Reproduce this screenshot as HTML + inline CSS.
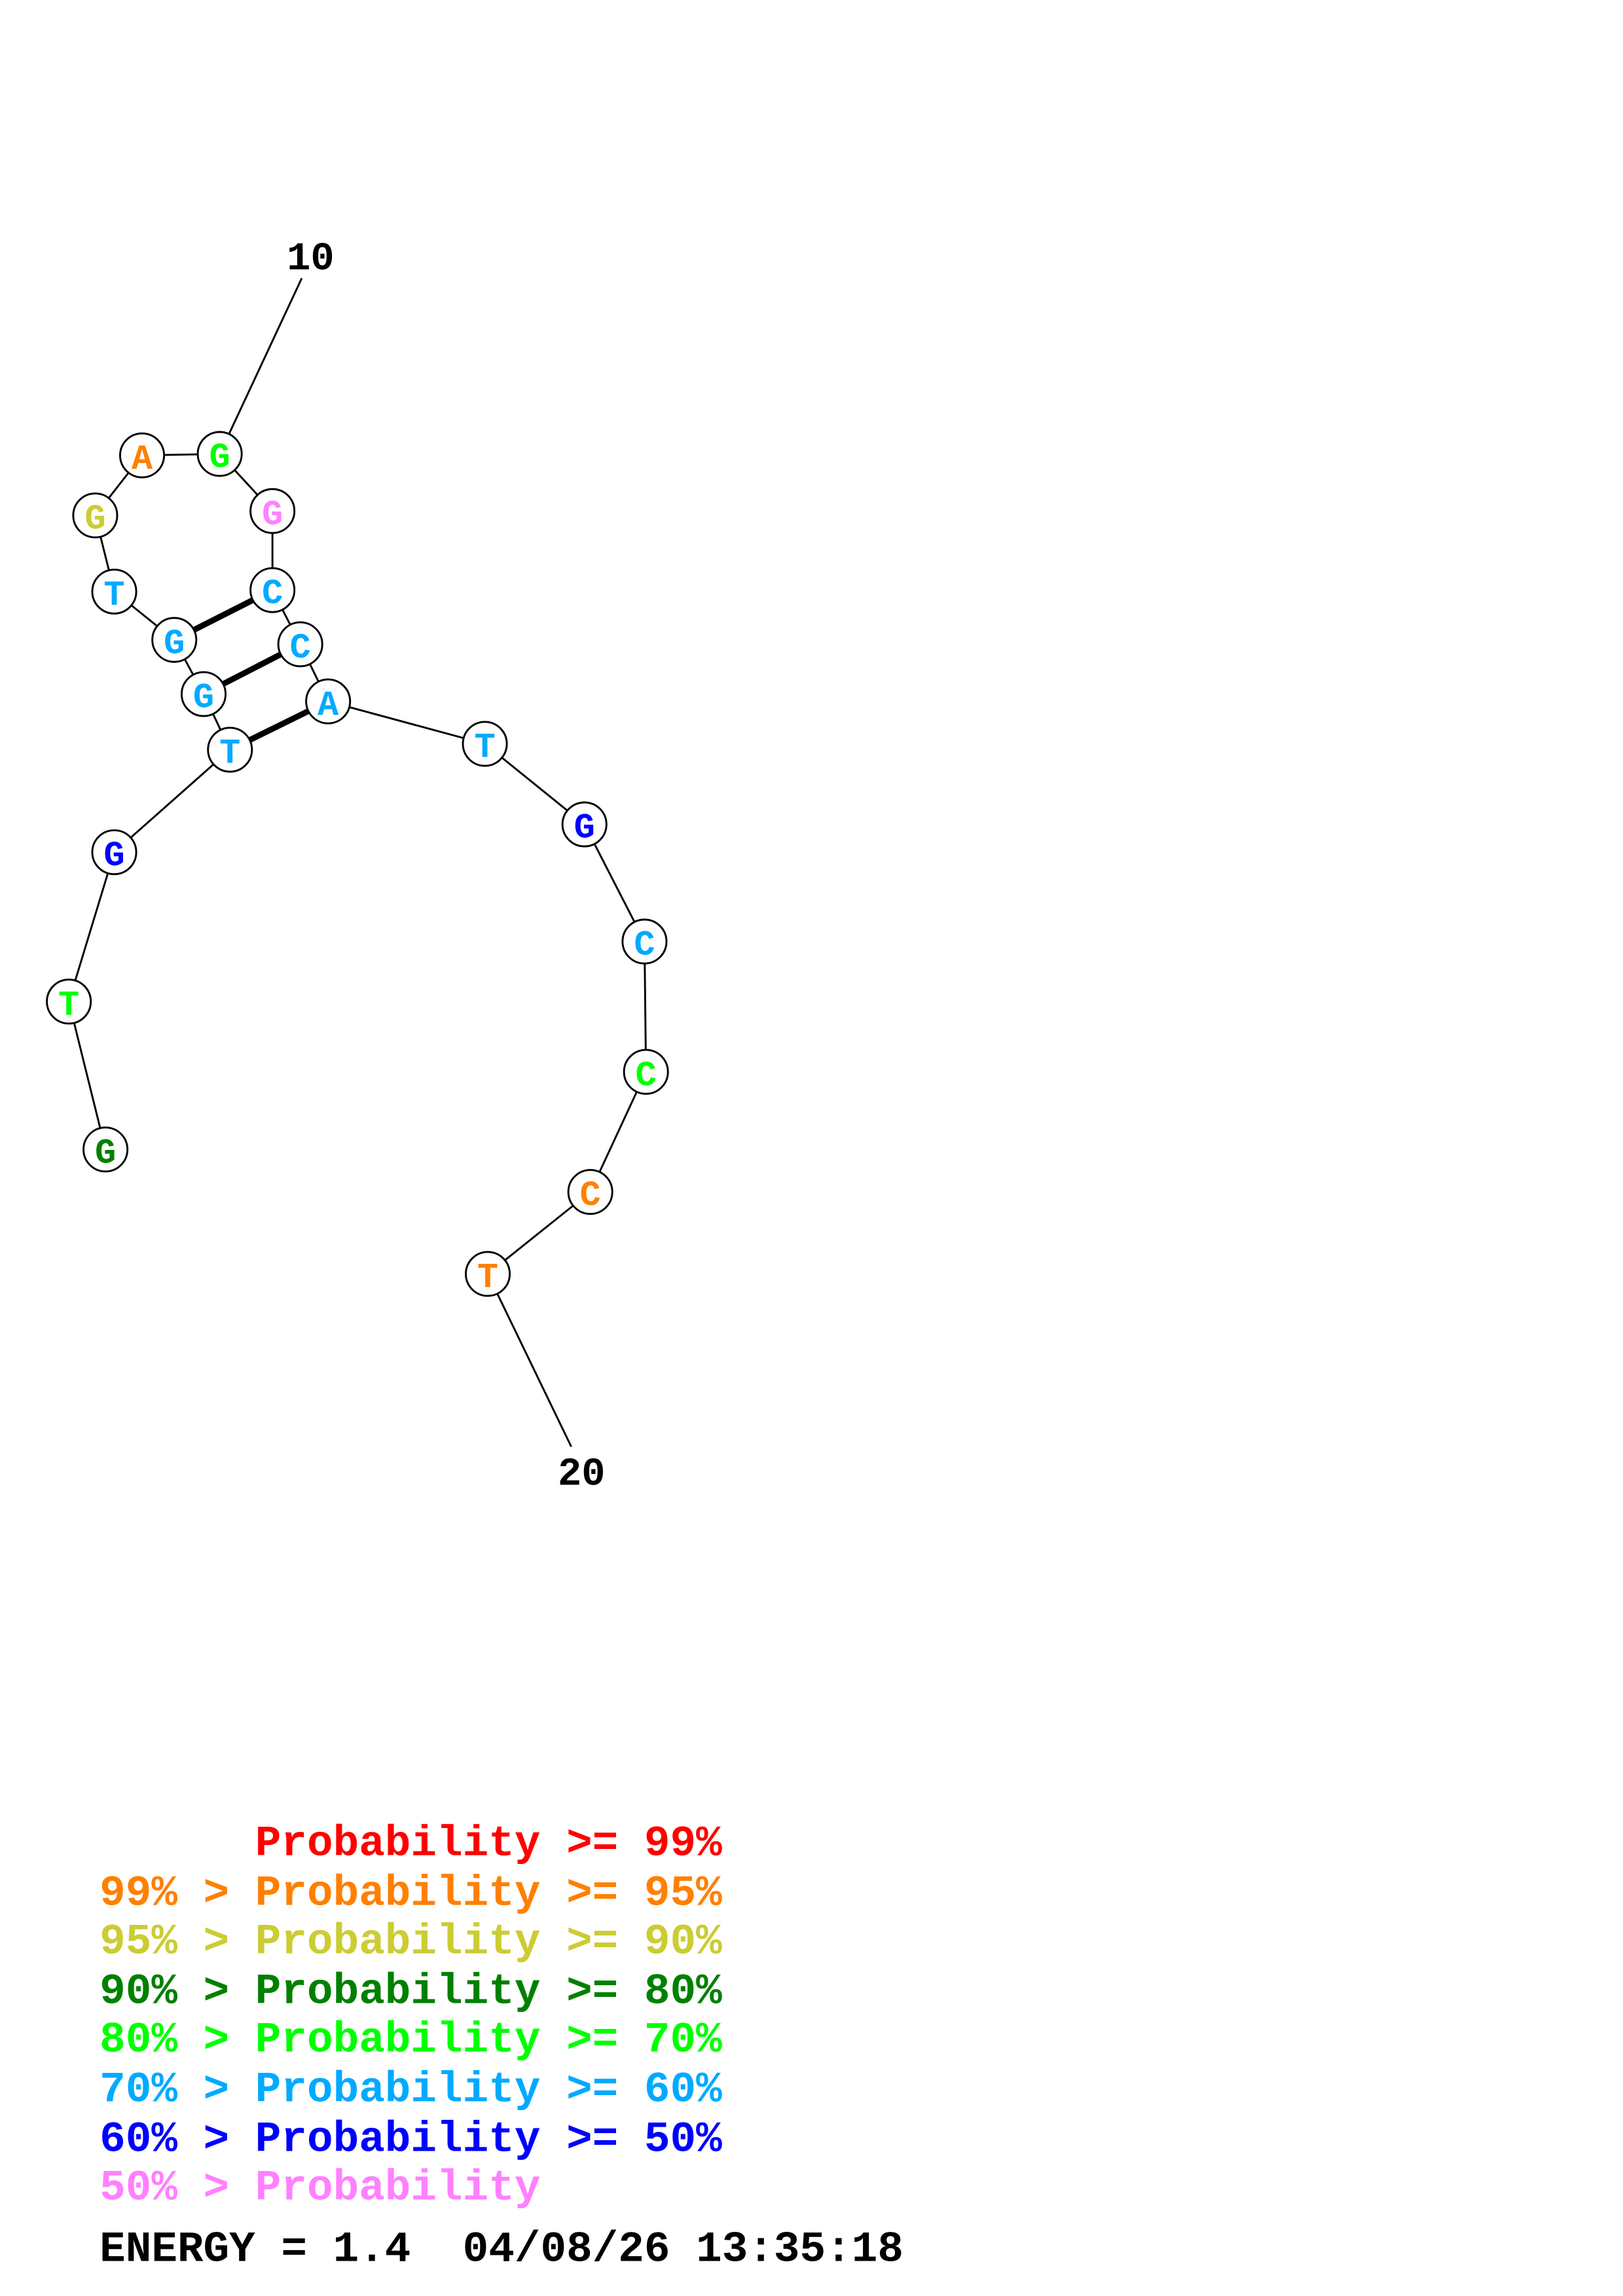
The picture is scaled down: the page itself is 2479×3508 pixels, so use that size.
<!DOCTYPE html>
<html><head><meta charset="utf-8"><style>
html,body{margin:0;padding:0;background:#fff;}
svg{display:block;}
text{font-family:"Liberation Mono",monospace;font-weight:bold;}
.pre text{white-space:pre;}
</style></head><body>
<svg width="2479" height="3508" viewBox="0 0 1108 1568" preserveAspectRatio="none" xmlns="http://www.w3.org/2000/svg">
<rect width="1108" height="1568" fill="#fff"/>
<g stroke="#000" stroke-width="1.3" fill="none">
<polyline points="206,190 150,310 97,311 65,352 78,404 119,437 139,474 157,512 78,582 47,684 72,785"/>
<polyline points="150,310 186,349 186,403 205,440 224,479 331,508 399,563 440,643 441,732 403,814 333,870 390,988"/>
</g>
<g stroke="#000" stroke-width="4">
<line x1="119" y1="437" x2="186" y2="403"/>
<line x1="139" y1="474" x2="205" y2="440"/>
<line x1="157" y1="512" x2="224" y2="479"/>
</g>
<g stroke="#000" stroke-width="1.3" fill="#fff">
<circle cx="150" cy="310" r="15"/><circle cx="97" cy="311" r="15"/><circle cx="65" cy="352" r="15"/>
<circle cx="78" cy="404" r="15"/><circle cx="119" cy="437" r="15"/><circle cx="139" cy="474" r="15"/>
<circle cx="157" cy="512" r="15"/><circle cx="78" cy="582" r="15"/><circle cx="47" cy="684" r="15"/>
<circle cx="72" cy="785" r="15"/><circle cx="186" cy="349" r="15"/><circle cx="186" cy="403" r="15"/>
<circle cx="205" cy="440" r="15"/><circle cx="224" cy="479" r="15"/><circle cx="331" cy="508" r="15"/>
<circle cx="399" cy="563" r="15"/><circle cx="440" cy="643" r="15"/><circle cx="441" cy="732" r="15"/>
<circle cx="403" cy="814" r="15"/><circle cx="333" cy="870" r="15"/>
</g>
<g font-size="24" text-anchor="middle">
<text x="150" y="319" fill="#00ff00">G</text>
<text x="97" y="320" fill="#ff8000">A</text>
<text x="65" y="361" fill="#cccc33">G</text>
<text x="78" y="413" fill="#00aaff">T</text>
<text x="119" y="446" fill="#00aaff">G</text>
<text x="139" y="483" fill="#00aaff">G</text>
<text x="157" y="521" fill="#00aaff">T</text>
<text x="78" y="591" fill="#0000ff">G</text>
<text x="47" y="693" fill="#00ff00">T</text>
<text x="72" y="794" fill="#008000">G</text>
<text x="186" y="358" fill="#ff80ff">G</text>
<text x="186" y="412" fill="#00aaff">C</text>
<text x="205" y="449" fill="#00aaff">C</text>
<text x="224" y="488" fill="#00aaff">A</text>
<text x="331" y="517" fill="#00aaff">T</text>
<text x="399" y="572" fill="#0000ff">G</text>
<text x="440" y="652" fill="#00aaff">C</text>
<text x="441" y="741" fill="#00ff00">C</text>
<text x="403" y="823" fill="#ff8000">C</text>
<text x="333" y="879" fill="#ff8000">T</text>
</g>
<g font-size="27" fill="#000" text-anchor="middle">
<text x="212" y="184">10</text>
<text x="397" y="1014">20</text>
</g>
<g font-size="29.5" class="pre">
<text x="68" y="1267" fill="#ff0000">      Probability &gt;= 99%</text>
<text x="68" y="1301" fill="#ff8000">99% &gt; Probability &gt;= 95%</text>
<text x="68" y="1334" fill="#cccc33">95% &gt; Probability &gt;= 90%</text>
<text x="68" y="1368" fill="#008000">90% &gt; Probability &gt;= 80%</text>
<text x="68" y="1401" fill="#00ff00">80% &gt; Probability &gt;= 70%</text>
<text x="68" y="1435" fill="#00aaff">70% &gt; Probability &gt;= 60%</text>
<text x="68" y="1469" fill="#0000ff">60% &gt; Probability &gt;= 50%</text>
<text x="68" y="1502" fill="#ff80ff">50% &gt; Probability</text>
<text x="68" y="1544" fill="#000">ENERGY = 1.4  04/08/26 13:35:18</text>
</g>
</svg>
</body></html>
